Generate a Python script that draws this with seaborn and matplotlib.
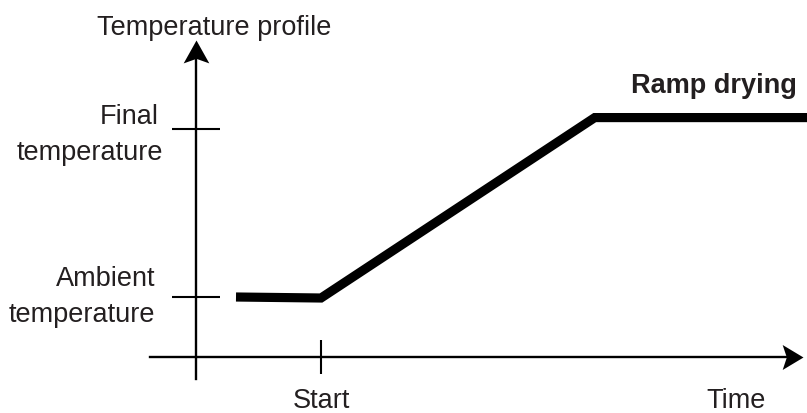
import matplotlib
matplotlib.use("Agg")
import matplotlib.pyplot as plt
from matplotlib.path import Path
import seaborn as sns
import numpy as np

# ---- data (time in units of "Start", temperature normalised: ambient=0, final=1)
time = [0.32, 1.0, 3.19, 4.9]
temperature = [0.0, -0.006, 1.068, 1.068]
ytick_values = [0, 1]
xtick_values = [1]
title_label = "Ramp drying"
y_axis_label = "Temperature profile"
x_axis_label = "Time"
x_tick_label = "Start"
final_label = ["Final", "temperature"]
ambient_label = ["Ambient", "temperature"]

sns.set_style("white")
plt.rcParams["font.family"] = ["Liberation Sans", "DejaVu Sans"]
TXT = "#231f20"
FS = 19.5

fig = plt.figure(figsize=(8.07, 4.13), dpi=100)
ax = fig.add_axes([0, 0, 1, 1])
ax.set_xlim(-1.568, 4.888)
ax.set_ylim(-0.6905, 1.7679)

# profile line
sns.lineplot(x=time, y=temperature, sort=False, color="black", linewidth=6.6,
             ax=ax, solid_capstyle="butt", solid_joinstyle="miter",
             errorbar=None, estimator=None)

# axes as spines through the origin
x_axis_y = -0.357
ax.spines["top"].set_visible(False)
ax.spines["right"].set_visible(False)
ax.spines["left"].set_position(("data", 0))
ax.spines["bottom"].set_position(("data", x_axis_y))
ax.spines["left"].set_bounds(-0.488, 1.46)
ax.spines["bottom"].set_bounds(-0.368, 4.78)
for s in ("left", "bottom"):
    ax.spines[s].set_linewidth(1.7)
    ax.spines[s].set_color("black")

ax.set_yticks(ytick_values)
ax.set_xticks(xtick_values)
ax.tick_params(axis="y", direction="inout", length=34.5, width=1.5, color="black",
               labelleft=False, left=True)
ax.tick_params(axis="x", direction="inout", length=25, width=1.5, color="black",
               labelbottom=False, bottom=True)
ax.grid(False)

# arrowheads (stealth shape, tip at origin)
up = Path([(0, 0), (-0.56, -1), (0, -0.8), (0.56, -1), (0, 0)],
          [Path.MOVETO, Path.LINETO, Path.LINETO, Path.LINETO, Path.CLOSEPOLY])
right = Path([(0, 0), (-1, 0.6), (-0.8, 0), (-1, -0.6), (0, 0)],
             [Path.MOVETO, Path.LINETO, Path.LINETO, Path.LINETO, Path.CLOSEPOLY])
ax.plot([0], [1.530], marker=up, markersize=33, color="black", mec="black", mew=0,
        clip_on=False)
ax.plot([4.856], [x_axis_y], marker=right, markersize=30, color="black", mec="black",
        mew=0, clip_on=False)

# texts
ax.text(-0.792, 1.5595, y_axis_label, ha="left", va="baseline", fontsize=FS, color=TXT)
ax.text(-0.296, 1.0298, final_label[0], ha="right", va="baseline", fontsize=FS, color=TXT)
ax.text(-0.264, 0.8155, final_label[1], ha="right", va="baseline", fontsize=FS, color=TXT)
ax.text(-0.328, 0.0655, ambient_label[0], ha="right", va="baseline", fontsize=FS, color=TXT)
ax.text(-0.328, -0.1488, ambient_label[1], ha="right", va="baseline", fontsize=FS, color=TXT)
ax.text(xtick_values[0], -0.6607, x_tick_label, ha="center", va="baseline", fontsize=FS, color=TXT)
ax.text(4.32, -0.6607, x_axis_label, ha="center", va="baseline", fontsize=FS, color=TXT)
ax.text(4.808, 1.214, title_label, ha="right", va="baseline", fontsize=FS,
        fontweight="bold", color=TXT)

fig.savefig("out.png", dpi=100)
